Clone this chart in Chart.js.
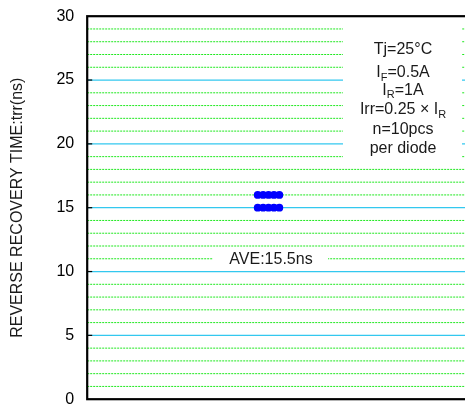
<!DOCTYPE html>
<html>
<head>
<meta charset="utf-8">
<script src="https://cdn.jsdelivr.net/npm/chart.js@4.4.1/dist/chart.umd.min.js"></script>
<style>
  html, body { margin: 0; padding: 0; overflow: hidden; background: #ffffff; }
  canvas { display: block; }
</style>
</head>
<body>
<canvas id="trrChart" width="470" height="406"></canvas>
<script>
// Reverse recovery time, 10 diodes measured (two rows of 5 identical readings)
const sampleIndex = [1, 2, 3, 4, 5];
const trrUpperRow = [16, 16, 16, 16, 16];
const trrLowerRow = [15, 15, 15, 15, 15];

// Axis range and grid steps (ns)
const yMin = 0;
const yMax = 30;
const majorStep = 5;
const minorStep = 1;

const yAxisTitle = 'REVERSE RECOVERY TIME:trr(ns)';

// Test conditions; each line is a list of [text, isSubscript] runs
const conditionLines = [
  [['Tj=25°C', false]],
  [['I', false], ['F', true], ['=0.5A', false]],
  [['I', false], ['R', true], ['=1A', false]],
  [['Irr=0.25 × I', false], ['R', true]],
  [['n=10pcs', false]],
  [['per diode', false]]
];

const allValues = trrUpperRow.concat(trrLowerRow);
const average = allValues.reduce((a, b) => a + b, 0) / allValues.length;
const averageLabel = 'AVE:' + average.toFixed(1) + 'ns';

const FONT = "'Liberation Sans', Arial, sans-serif";

const toPoints = (xs, ys) => xs.map((x, i) => ({ x: x, y: ys[i] }));

// Grid, frame, inner tick marks and the text boxes
const decorations = {
  id: 'decorations',
  beforeDatasetsDraw(chart) {
    const { ctx, chartArea: a, scales } = chart;
    const y = scales.y;
    ctx.save();

    // grid lines
    for (let v = yMin + minorStep; v < yMax; v += minorStep) {
      const py = y.getPixelForValue(v);
      ctx.beginPath();
      if (v % majorStep === 0) {
        ctx.setLineDash([]);
        ctx.strokeStyle = '#33c8ef';
        ctx.lineWidth = 1.3;
      } else {
        ctx.setLineDash([2, 1]);
        ctx.strokeStyle = '#1fe81f';
        ctx.lineWidth = 1;
      }
      ctx.moveTo(a.left, py);
      ctx.lineTo(a.right, py);
      ctx.stroke();
    }
    ctx.setLineDash([]);

    // white boxes behind the labels
    ctx.fillStyle = '#ffffff';
    ctx.fillRect(343, 20, 119, 144);
    ctx.fillRect(213, 250, 115, 17);

    // condition text
    ctx.fillStyle = '#1a1a1a';
    ctx.textBaseline = 'alphabetic';
    const baselines = [54, 77, 94.5, 114, 134, 153];
    const cx = 403;
    conditionLines.forEach((runs, i) => {
      let width = 0;
      runs.forEach(([t, sub]) => {
        ctx.font = (sub ? '11px ' : '16px ') + FONT;
        width += ctx.measureText(t).width;
      });
      let x = cx - width / 2;
      ctx.textAlign = 'left';
      runs.forEach(([t, sub]) => {
        ctx.font = (sub ? '11px ' : '16px ') + FONT;
        ctx.fillText(t, x, baselines[i] + (sub ? 3.5 : 0));
        x += ctx.measureText(t).width;
      });
    });

    // average label
    ctx.font = '16px ' + FONT;
    ctx.textAlign = 'center';
    ctx.fillText(averageLabel, 271, 263.5);

    // short inner tick marks at the major values
    ctx.strokeStyle = '#000000';
    ctx.lineWidth = 1.2;
    for (let v = yMin + majorStep; v < yMax; v += majorStep) {
      const py = y.getPixelForValue(v);
      ctx.beginPath();
      ctx.moveTo(a.left, py);
      ctx.lineTo(a.left + 5, py);
      ctx.stroke();
    }

    // plot frame
    ctx.lineWidth = 2.2;
    ctx.strokeRect(a.left, a.top, a.right - a.left, a.bottom - a.top);
    ctx.restore();
  }
};

new Chart(document.getElementById('trrChart'), {
  type: 'scatter',
  data: {
    datasets: [
      {
        label: 'trr',
        data: toPoints(sampleIndex, trrUpperRow),
        backgroundColor: '#0000ff',
        borderColor: '#0000ff',
        borderWidth: 0,
        pointRadius: 3.9,
        pointHoverRadius: 3.9
      },
      {
        label: 'trr ',
        data: toPoints(sampleIndex, trrLowerRow),
        backgroundColor: '#0000ff',
        borderColor: '#0000ff',
        borderWidth: 0,
        pointRadius: 3.9,
        pointHoverRadius: 3.9
      }
    ]
  },
  options: {
    responsive: false,
    animation: false,
    events: [],
    layout: { padding: { top: 16.2, bottom: 6.8, left: 0, right: 1 } },
    plugins: {
      legend: { display: false },
      tooltip: { enabled: false }
    },
    scales: {
      x: {
        type: 'linear',
        display: false,
        min: -30.5,
        max: 39.5
      },
      y: {
        type: 'linear',
        min: yMin,
        max: yMax,
        grid: { display: false, drawTicks: false },
        border: { display: false },
        ticks: {
          stepSize: majorStep,
          padding: 13,
          color: '#000000',
          font: { family: FONT, size: 16 }
        },
        title: {
          display: true,
          text: yAxisTitle,
          color: '#1a1a1a',
          padding: { top: 8, bottom: 0 },
          font: { family: FONT, size: 16 }
        },
        afterFit(scale) {
          scale.width = 87.2;
          scale.paddingTop = 0;
          scale.paddingBottom = 0;
        }
      }
    }
  },
  plugins: [decorations]
});
</script>
</body>
</html>
